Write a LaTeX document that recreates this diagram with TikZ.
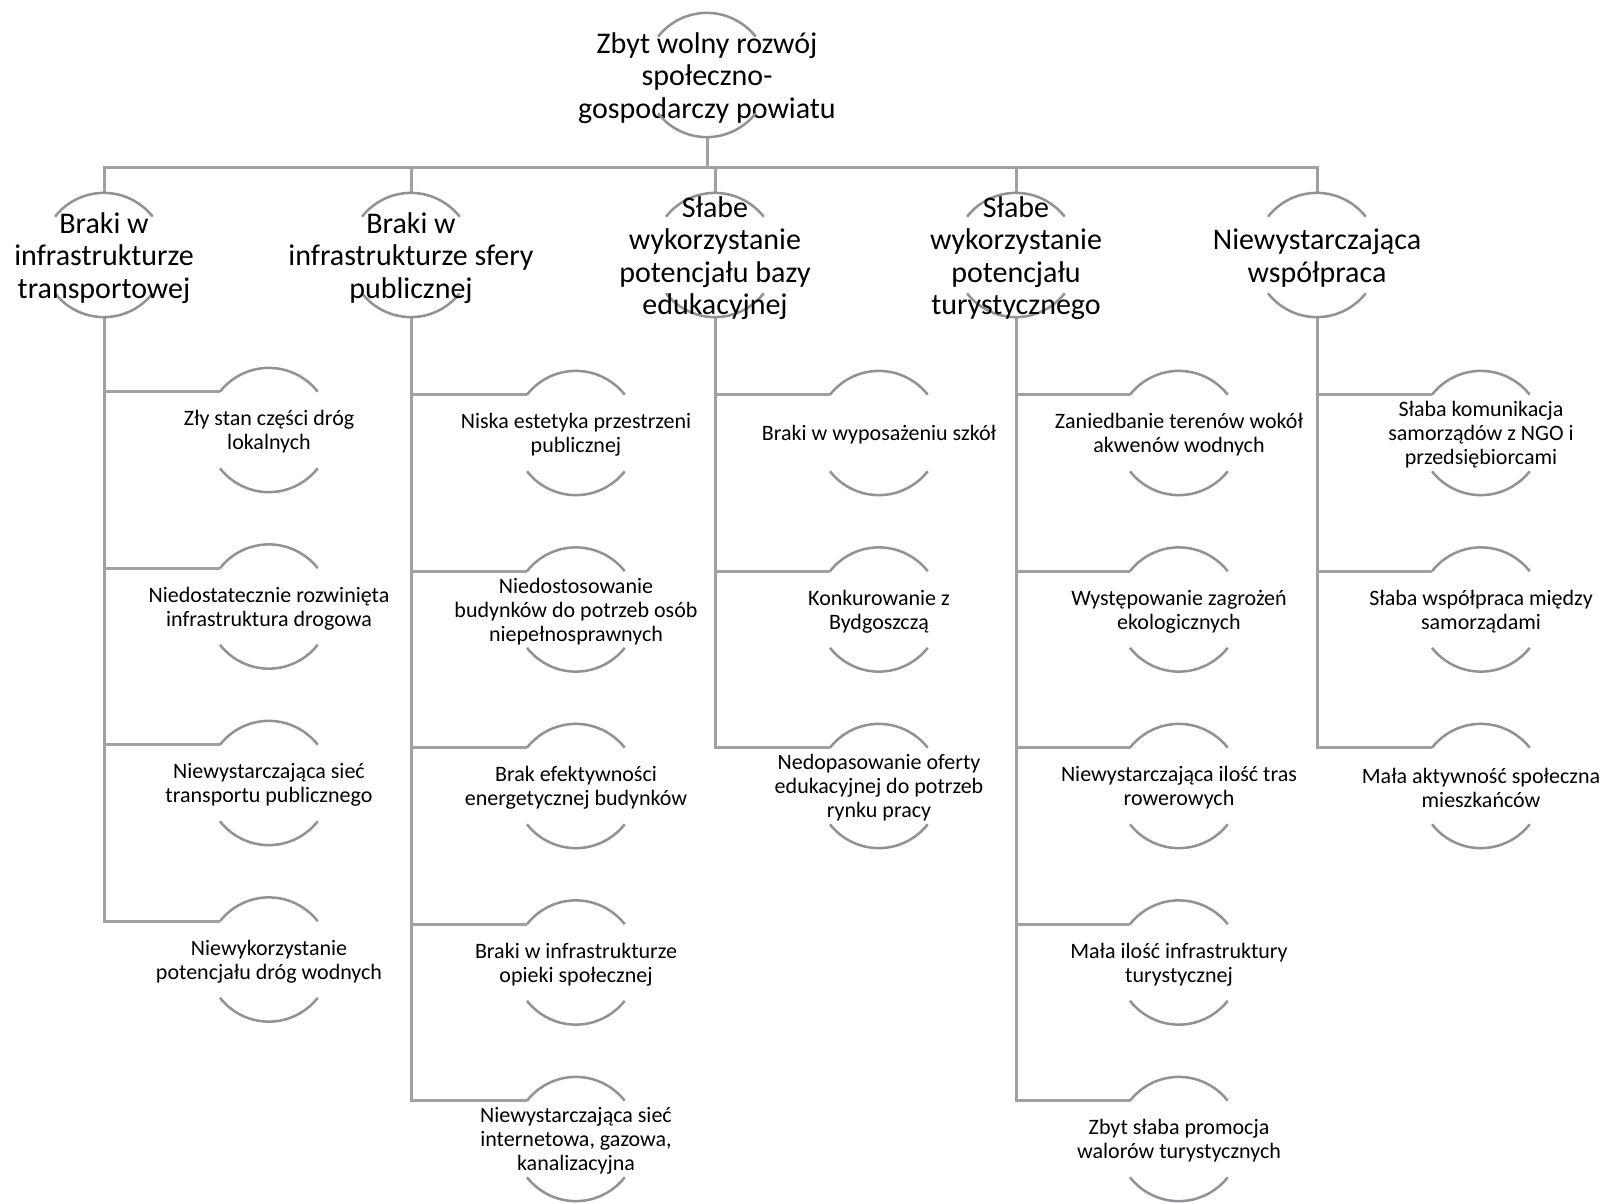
\documentclass[tikz,border=0pt]{standalone}
\usepackage{fontspec}
\setmainfont{Carlito}
\definecolor{conncol}{RGB}{160,160,166}
\definecolor{arccol}{RGB}{145,145,150}
\tikzset{
  x=1pt,y=1pt,
  circ/.style={circle,draw=none,minimum size=124pt,inner sep=0pt},
  bigtxt/.style={align=center,font=\fontsize{30}{32.5}\selectfont,inner sep=0pt,text=black,yshift=-3pt},
  smalltxt/.style={align=center,font=\fontsize{22}{24}\selectfont,inner sep=0pt,text=black,yshift=-2pt},
  conn/.style={draw=conncol,line width=3pt},
  arcline/.style={draw=arccol,line width=2.5pt},
}
\newcommand{\arcs}[1]{%
  \draw[arcline] (#1.142) arc (142:38:62pt);
  \draw[arcline] (#1.218) arc (218:322:62pt);}
\begin{document}
\begin{tikzpicture}
\useasboundingbox[fill=white] (0,0) rectangle (1601,-1203);
% top
\node[circ] (top) at (707,-75) {};
\node[bigtxt] at (top) {Zbyt wolny rozwój\\społeczno-\\gospodarczy powiatu};
% level 1
\node[circ] (a) at (104,-255) {};
\node[circ] (b) at (411,-255) {};
\node[circ] (c) at (715,-255) {};
\node[circ] (d) at (1016,-255) {};
\node[circ] (e) at (1317,-255) {};
\foreach \n in {a,b,c,d,e}{\draw[conn] (top.south) -- ++(0,-30) -| (\n.north);}
% leaves
\foreach \i/\y in {1/-430,2/-606.5,3/-783,4/-959.5}{\node[circ] (a\i) at (269,\y) {};}
\foreach \i/\y in {1/-433,2/-609.5,3/-786,4/-962.5,5/-1139}{\node[circ] (b\i) at (576,\y) {};}
\foreach \i/\y in {1/-433,2/-609.5,3/-786}{\node[circ] (c\i) at (879,\y) {};}
\foreach \i/\y in {1/-433,2/-609.5,3/-786,4/-962.5,5/-1139}{\node[circ] (d\i) at (1179,\y) {};}
\foreach \i/\y in {1/-433,2/-609.5,3/-786}{\node[circ] (e\i) at (1481,\y) {};}
\foreach \p/\m in {a/4,b/5,c/3,d/5,e/3}{
  \foreach \i in {1,...,\m}{\draw[conn] (\p.south) |- (\p\i.142);}
}
\foreach \n in {top,a,b,c,d,e,a1,a2,a3,a4,b1,b2,b3,b4,b5,c1,c2,c3,d1,d2,d3,d4,d5,e1,e2,e3}{\arcs{\n}}
% level-1 texts
\node[bigtxt] at (a) {Braki w\\infrastrukturze\\transportowej};
\node[bigtxt] at (b) {Braki w\\infrastrukturze sfery\\publicznej};
\node[bigtxt] at (c) {Słabe\\wykorzystanie\\potencjału bazy\\edukacyjnej};
\node[bigtxt] at (d) {Słabe\\wykorzystanie\\potencjału\\turystycznego};
\node[bigtxt] at (e) {Niewystarczająca\\współpraca};
% leaf texts
\node[smalltxt] at (a1) {Zły stan części dróg\\lokalnych};
\node[smalltxt] at (a2) {Niedostatecznie rozwinięta\\infrastruktura drogowa};
\node[smalltxt] at (a3) {Niewystarczająca sieć\\transportu publicznego};
\node[smalltxt] at (a4) {Niewykorzystanie\\potencjału dróg wodnych};
\node[smalltxt] at (b1) {Niska estetyka przestrzeni\\publicznej};
\node[smalltxt] at (b2) {Niedostosowanie\\budynków do potrzeb osób\\niepełnosprawnych};
\node[smalltxt] at (b3) {Brak efektywności\\energetycznej budynków};
\node[smalltxt] at (b4) {Braki w infrastrukturze\\opieki społecznej};
\node[smalltxt] at (b5) {Niewystarczająca sieć\\internetowa, gazowa,\\kanalizacyjna};
\node[smalltxt] at (c1) {Braki w wyposażeniu szkół};
\node[smalltxt] at (c2) {Konkurowanie z\\Bydgoszczą};
\node[smalltxt] at (c3) {Nedopasowanie oferty\\edukacyjnej do potrzeb\\rynku pracy};
\node[smalltxt] at (d1) {Zaniedbanie terenów wokół\\akwenów wodnych};
\node[smalltxt] at (d2) {Występowanie zagrożeń\\ekologicznych};
\node[smalltxt] at (d3) {Niewystarczająca ilość tras\\rowerowych};
\node[smalltxt] at (d4) {Mała ilość infrastruktury\\turystycznej};
\node[smalltxt] at (d5) {Zbyt słaba promocja\\walorów turystycznych};
\node[smalltxt] at (e1) {Słaba komunikacja\\samorządów z NGO i\\przedsiębiorcami};
\node[smalltxt] at (e2) {Słaba współpraca między\\samorządami};
\node[smalltxt] at (e3) {Mała aktywność społeczna\\mieszkańców};
\end{tikzpicture}
\end{document}
